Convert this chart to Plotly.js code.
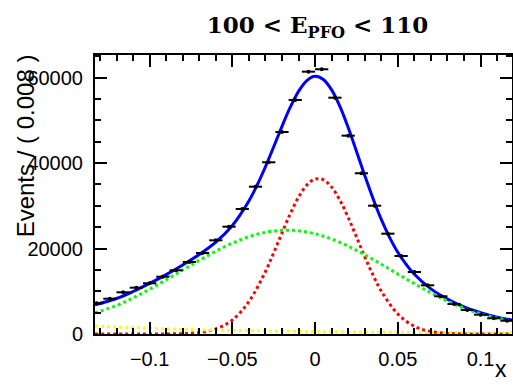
<!DOCTYPE html>
<html><head><meta charset="utf-8">
<script src="https://cdn.plot.ly/plotly-3.0.1.min.js"></script>
<style>html,body{margin:0;padding:0;background:#fff}#chart{width:513px;height:385px}</style>
</head><body><div id="chart"></div>
<script>
// ---- data ----
const binCenters = [-0.132,-0.124,-0.116,-0.108,-0.100,-0.092,-0.084,-0.076,-0.068,-0.060,-0.052,-0.044,-0.036,-0.028,-0.020,-0.012,-0.004,0.004,0.012,0.020,0.028,0.036,0.044,0.052,0.060,0.068,0.076,0.084,0.092,0.100,0.108,0.116];
const counts = [7190,8260,9760,10840,11870,13410,14910,16850,18960,21930,25120,29260,34480,40190,47280,54780,61400,61960,55310,46420,37620,30030,23480,18260,14510,11400,8830,7020,5620,4520,3680,3110];
const countErr = [85,91,99,104,109,116,122,130,138,148,158,171,186,200,217,234,248,249,235,215,194,173,153,135,120,107,94,84,75,67,61,56];
const binHalfWidth = 0.004;

const totalX = [-0.133,-0.12,-0.11,-0.10,-0.09,-0.08,-0.07,-0.06,-0.05,-0.04,-0.035,-0.03,-0.025,-0.02,-0.015,-0.01,-0.005,0,0.005,0.01,0.015,0.02,0.025,0.03,0.035,0.04,0.045,0.05,0.06,0.07,0.08,0.09,0.10,0.11,0.119];
const totalY = [6850,8310,9950,11840,13900,16160,18610,21500,25400,31130,34870,39150,43820,48600,53080,56790,59320,60300,59560,57140,53270,48330,42790,37120,31720,26820,22630,19120,13960,10560,8170,6330,5000,3950,3250];

const sigX = [-0.133,-0.11,-0.10,-0.09,-0.08,-0.07,-0.06,-0.05,-0.04,-0.03,-0.025,-0.02,-0.015,-0.01,-0.005,0,0.005,0.01,0.015,0.02,0.025,0.03,0.035,0.04,0.05,0.06,0.07,0.08,0.09,0.10,0.119];
const sigY = [0,1,5,20,90,360,1190,3280,7570,14630,19020,23660,28140,32020,34840,36270,36110,34380,31320,27280,22730,18110,13810,10060,4680,1820,590,160,40,5,0];

const bkgX = [-0.133,-0.12,-0.11,-0.10,-0.09,-0.08,-0.07,-0.06,-0.05,-0.04,-0.03,-0.02,-0.01,0,0.01,0.02,0.03,0.04,0.05,0.06,0.07,0.08,0.09,0.10,0.11,0.119];
const bkgY = [4950,6660,8450,10480,12680,14970,17250,19390,21270,22780,23800,24270,24150,23460,22230,20560,18560,16340,14050,11780,9640,7710,6010,4750,3700,3000];

const flatX = [-0.133,-0.12,-0.11,-0.10,-0.09,-0.08,-0.07,-0.06,-0.05,-0.04,-0.03,-0.02,-0.01,0,0.01,0.02,0.03,0.04,0.05,0.06,0.07,0.08,0.09,0.10,0.11,0.119];
const flatY = [1850,1650,1500,1350,1200,1100,1000,920,850,780,720,670,620,570,530,490,450,420,390,360,330,300,280,260,240,220];

const xTickVals = [-0.1,-0.05,0,0.05,0.1];
const xTickText = ['\u22120.1','\u22120.05','0','0.05','0.1'];
const yTickVals = [0,20000,40000,60000];
const yTickText = ['0','20000','40000','60000'];

const traces = [
  {x: totalX, y: totalY, mode:'lines', line:{color:'#0000ff', width:3, shape:'spline'}, hoverinfo:'skip'},
  {x: sigX, y: sigY, mode:'lines', line:{color:'#ff0000', width:3, dash:'dot', shape:'spline'}, hoverinfo:'skip'},
  {x: bkgX, y: bkgY, mode:'lines', line:{color:'#00ff00', width:3, dash:'dot', shape:'spline'}, hoverinfo:'skip'},
  {x: flatX, y: flatY, mode:'lines', line:{color:'#ffff00', width:3, dash:'dot', shape:'spline'}, hoverinfo:'skip'},
  {x: binCenters, y: counts, mode:'markers', marker:{color:'black', size:4},
   error_x:{type:'constant', value:binHalfWidth, color:'black', thickness:2, width:0},
   error_y:{type:'data', array:countErr, color:'black', thickness:2, width:0}}
];

const axisCommon = {
  showline:true, linecolor:'black', linewidth:2, mirror:'allticks',
  ticks:'inside', tickcolor:'black', tickwidth:2, ticklen:12,
  showgrid:false, zeroline:false,
  tickfont:{family:'Liberation Sans, Arial, sans-serif', size:20, color:'black'}
};

const layout = {
  width:513, height:385,
  margin:{l:95, r:1, t:55, b:51},
  paper_bgcolor:'white', plot_bgcolor:'white',
  showlegend:false,
  title:{text:'100 &lt; E<sub>PFO</sub> &lt; 110', font:{family:'DejaVu Serif, serif', size:23, color:'black', weight:'bold'},
         xref:'container', x:0.619, xanchor:'center', yref:'container', y:0.935, yanchor:'middle'},
  xaxis: Object.assign({}, axisCommon, {
    range:[-0.133, 0.119], tickmode:'array', tickvals:xTickVals, ticktext:xTickText,
    ticklabelstandoff:6,
    minor:{dtick:0.01, tick0:0, ticks:'inside', ticklen:6, tickwidth:2, tickcolor:'black', showgrid:false}
  }),
  yaxis: Object.assign({}, axisCommon, {
    range:[0, 65300], tickmode:'array', tickvals:yTickVals, ticktext:yTickText,
    ticklabelstandoff:6,
    minor:{dtick:5000, tick0:0, ticks:'inside', ticklen:6, tickwidth:2, tickcolor:'black', showgrid:false}
  }),
  annotations:[
    {text:'Events / ( 0.008 )', xref:'paper', yref:'paper', x:-0.168, y:0.676, xanchor:'center', yanchor:'middle',
     textangle:-90, showarrow:false, font:{family:'Liberation Sans, Arial, sans-serif', size:24, color:'black'}},
    {text:'x', xref:'paper', yref:'paper', x:0.993, y:-0.181, xanchor:'right', yanchor:'bottom',
     showarrow:false, font:{family:'Liberation Sans, Arial, sans-serif', size:23, color:'black'}}
  ]
};

Plotly.newPlot('chart', traces, layout, {displayModeBar:false, staticPlot:true});
</script></body></html>
